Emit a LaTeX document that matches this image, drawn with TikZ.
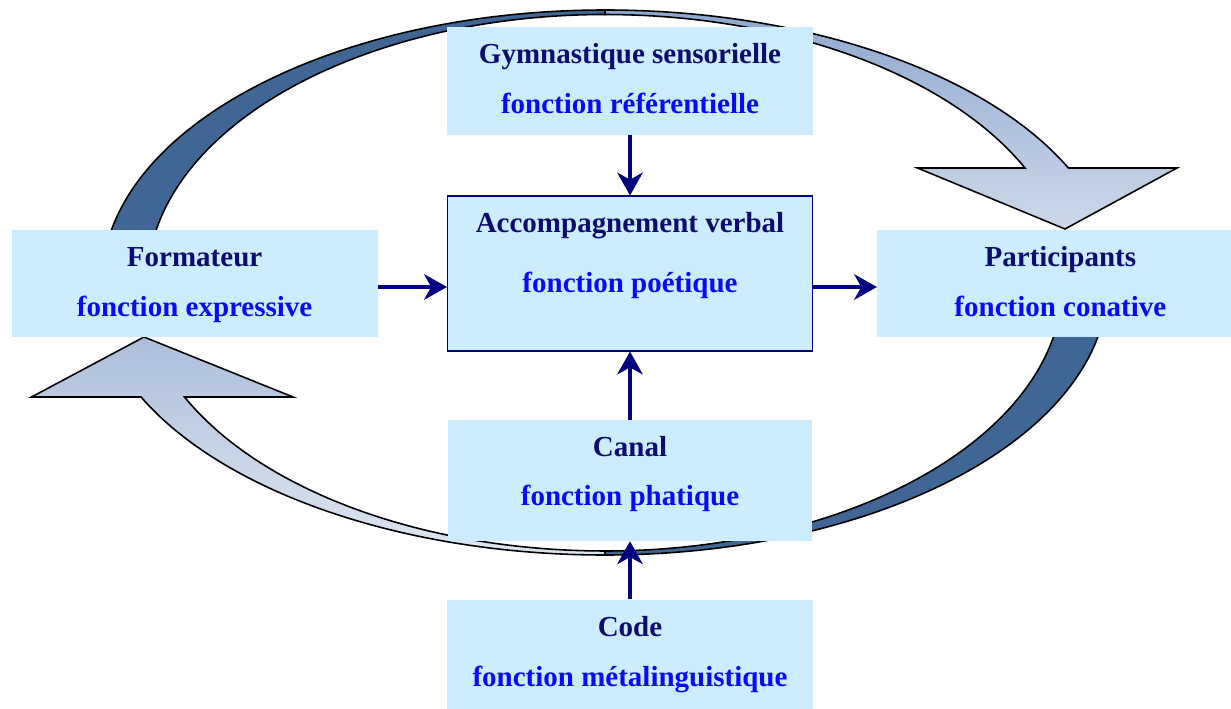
\documentclass[tikz,border=0pt]{standalone}
\usepackage{fontspec}
\setmainfont{Liberation Serif}
\usetikzlibrary{arrows.meta,positioning}
\definecolor{boxblue}{HTML}{CCECFF}
\definecolor{titlenavy}{HTML}{0C0C70}
\definecolor{subblue}{HTML}{0A0AF5}
\definecolor{linknavy}{HTML}{000080}
\definecolor{ringdark}{HTML}{3F6694}
\definecolor{ringmidtop}{HTML}{8EA7CF}
\definecolor{ringmidbot}{HTML}{A2B5D6}
\definecolor{ringlight}{HTML}{DDE5F0}
\begin{document}
\begin{tikzpicture}[
      mybox/.style={
         rectangle,
         fill=boxblue,
         inner sep=0pt,
         minimum width=7.32cm,
         minimum height=2.16cm},
      mytitle/.style={anchor=base,text=titlenavy,font=\fontsize{16.5}{20}\selectfont\bfseries},
      mysub/.style={anchor=base,text=subblue,font=\fontsize{16.5}{20}\selectfont\bfseries},
      myarrow/.style={-{Stealth[length=13pt,width=14.5pt,inset=4pt]},draw=linknavy,line width=2pt},
      ringback/.style={fill=ringdark,draw=black,line width=0.9pt},
      ringfront/.style={draw=black,line width=0.9pt},
      node distance=1.2cm and 1.3cm
      ]
      \useasboundingbox (0,0) rectangle (24.62,14.16);
      \coordinate (ring) at (12.10,8.51);

      % the two curved arrows, behind the boxes
      \draw[ringback] (ring) ++(170.2:10.06 and 5.45)
         arc[start angle=170.2,end angle=90,x radius=10.06cm,y radius=5.45cm]
         -- (12.10,13.87)
         arc[start angle=90,end angle=170,x radius=9.154cm,y radius=5.36cm] -- cycle;
      \draw[ringfront,top color=ringmidtop,bottom color=ringlight] (ring) ++(90:10.214 and 5.45)
         arc[start angle=90,end angle=24.85,x radius=10.214cm,y radius=5.45cm]
         -- (23.54,10.80) -- (21.30,9.58) -- (18.35,10.80) -- (20.50,10.80)
         arc[start angle=25.3,end angle=90,x radius=9.29cm,y radius=5.36cm] -- cycle;
      \draw[ringback] (ring) ++(-10:10.06 and 5.45)
         arc[start angle=-10,end angle=-90,x radius=10.06cm,y radius=5.45cm]
         -- (12.10,3.14)
         arc[start angle=-90,end angle=-10.2,x radius=9.16cm,y radius=5.37cm] -- cycle;
      \draw[ringfront,top color=ringmidbot,bottom color=ringlight] (ring) ++(-90:10.226 and 5.45)
         arc[start angle=-90,end angle=-155.15,x radius=10.226cm,y radius=5.45cm]
         -- (0.63,6.22) -- (2.88,7.42) -- (5.86,6.22) -- (3.69,6.22)
         arc[start angle=-154.75,end angle=-90,x radius=9.296cm,y radius=5.37cm] -- cycle;

      \node[mybox,draw=linknavy,line width=0.6pt,minimum width=7.30cm,minimum height=3.10cm] (verbal) at (12.60,8.69) {};
      \node[mybox,above=1.2cm of verbal] (gym) {};
      \node[mybox,left=1.38cm of verbal,yshift=-2mm,minimum height=2.14cm] (formateur) {};
      \node[mybox,right=1.28cm of verbal,yshift=-2mm,minimum height=2.14cm] (participants) {};
      \node[mybox,below=1.36cm of verbal,minimum width=7.28cm,minimum height=2.42cm] (canal) {};
      \node[mybox,below=1.16cm of canal,minimum height=2.2cm] (code) {};

    \foreach \b/\t/\s/\d in {% box/title/function/depth of 2nd line
      gym/Gymnastique sensorielle/fonction référentielle/1.74,
      verbal/Accompagnement verbal/fonction poétique/1.94,
      formateur/Formateur/fonction expressive/1.74,
      participants/Participants/fonction conative/1.74,
      canal/Canal/fonction phatique/1.72,
      code/Code/fonction métalinguistique/1.74}
      {
       \node[mytitle] (\b-title) at ([yshift=-0.74cm]\b.north) {\t};
       \node[mysub] (\b-sub) at ([yshift=-\d cm]\b.north) {\s};
      }

      \draw[myarrow] (gym) -- (verbal);
      \draw[myarrow] (canal) -- (verbal);
      \draw[myarrow] (code) -- (canal);
      \draw[myarrow] ([yshift=-0.07cm]formateur.east) -- ([yshift=-0.07cm]formateur.east -| verbal.west);
      \draw[myarrow] ([yshift=-0.27cm]verbal.east) -- ([yshift=-0.27cm]verbal.east -| participants.west);

    \end{tikzpicture}
\end{document}
